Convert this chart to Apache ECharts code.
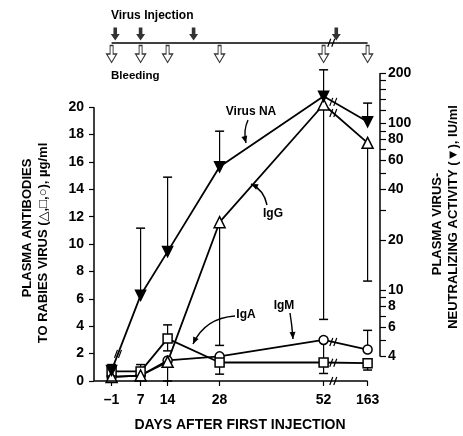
<!DOCTYPE html>
<html><head><meta charset="utf-8">
<script src="https://cdn.jsdelivr.net/npm/echarts@6/dist/echarts.min.js"></script>
<style>html,body{margin:0;padding:0;background:#fff}#c{width:463px;height:436px}</style>
</head><body><div id="c"></div>
<script>
// ---------- data ----------
const dayLabels = ['\u20131', '7', '14', '28', '52', '163'];
const bleedDays = [-1, 7, 14, 28, 52, 163];
// plotting position of each bleeding day on the broken x axis
const axisPos = [-1, 6.25, 13, 26, 52, 63];
const injectionDays = [0, 7, 21, 84];

const virusNA   = [3.3, 9.3, 17, 54.8, 145, 102];      // IU/ml (right, log)
const virusNAHi = [null, 23.5, 47.5, 89.6, 209, 132];
const igG   = [0.3, 0.4, 1.4, 11.6, 20.2, 17.4];        // µg/ml (left)
const igGLo = [null, null, 0, 2.6, 4.5, 7.3];
const igA   = [0.7, 0.7, 3.1, 1.35, 1.35, 1.3];
const igAHi = [1.2, 1.2, 4.1, null, null, null];
const igALo = [null, null, 2.2, 0.5, 0.55, 0.8];
const igM   = [0.3, 0.4, 1.5, 1.8, 3.0, 2.3];
const igMHi = [null, null, null, null, null, 3.7];
const igMLo = [null, null, null, null, 1.35, null];

const leftTicks = [0, 2, 4, 6, 8, 10, 12, 14, 16, 18, 20];
const rightLabels = [4, 6, 8, 10, 20, 40, 60, 80, 100, 200];
const rightTicks = [4, 5, 6, 7, 8, 9, 10, 20, 30, 40, 50, 60, 70, 80, 90, 100, 120, 140, 160, 180, 200];

// ---------- helpers ----------
const FONT = '"Liberation Sans", Arial, "DejaVu Sans", sans-serif';
const X_MIN = -5.4, X_MAX = 66.1;
function dayToPos(d) {
  for (let i = 0; i < bleedDays.length - 1; i++) {
    if (d >= bleedDays[i] && d <= bleedDays[i + 1]) {
      const f = (d - bleedDays[i]) / (bleedDays[i + 1] - bleedDays[i]);
      return axisPos[i] + f * (axisPos[i + 1] - axisPos[i]);
    }
  }
  return axisPos[0];
}
function pts(vals) { return axisPos.map((p, i) => [p, vals[i]]); }
function errSeries(vals, ends, yAxisIndex) {
  const data = [];
  vals.forEach((v, i) => { if (ends[i] != null) data.push([axisPos[i], v, ends[i]]); });
  return {
    type: 'custom', xAxisIndex: 0, yAxisIndex: yAxisIndex, data: data, z: 1, silent: true,
    encode: { x: 0, y: [1, 2] },
    renderItem: function (params, api) {
      const p0 = api.coord([api.value(0), api.value(1)]);
      const p1 = api.coord([api.value(0), api.value(2)]);
      return { type: 'group', children: [
        { type: 'line', shape: { x1: p0[0], y1: p0[1], x2: p1[0], y2: p1[1] }, style: { stroke: '#000', lineWidth: 1.2 } },
        { type: 'line', shape: { x1: p1[0] - 4.5, y1: p1[1], x2: p1[0] + 4.5, y2: p1[1] }, style: { stroke: '#000', lineWidth: 1.5 } }
      ] };
    }
  };
}
function lineSeries(name, vals, yAxisIndex, symbol, size, filled, rotate) {
  return {
    type: 'line', name: name, xAxisIndex: 0, yAxisIndex: yAxisIndex, data: pts(vals),
    symbol: symbol, symbolSize: size, symbolRotate: rotate || 0, showSymbol: true, z: 3,
    lineStyle: { color: '#000', width: 1.8 },
    itemStyle: { color: filled ? '#000' : '#fff', borderColor: '#000', borderWidth: 1.5 }
  };
}

const chart = echarts.init(document.getElementById('c'), null, { renderer: 'canvas' });
const tickLabelStyle = { color: '#000', fontWeight: 'bold', fontSize: 14, fontFamily: FONT };

const option = {
  animation: false,
  backgroundColor: '#fff',
  grid: [
    { left: 94, right: 83, top: 73, bottom: 55 },
    { left: 94, right: 83, top: 23, height: 40 }
  ],
  xAxis: [
    { gridIndex: 0, type: 'value', min: X_MIN, max: X_MAX,
      axisLine: { show: false, onZero: false }, splitLine: { show: false },
      axisTick: { show: true, length: 5, customValues: axisPos, lineStyle: { color: '#000', width: 1.2 } },
      axisLabel: Object.assign({ margin: 12, customValues: axisPos,
        formatter: function (v) { const i = axisPos.findIndex(p => Math.abs(p - v) < 1e-6); return i >= 0 ? dayLabels[i] : ''; } }, tickLabelStyle) },
    { gridIndex: 1, type: 'value', min: X_MIN, max: X_MAX, show: false }
  ],
  yAxis: [
    { gridIndex: 0, type: 'value', position: 'left', min: 0, max: 22.5,
      axisLine: { show: false, onZero: false }, splitLine: { show: false },
      axisTick: { show: true, length: 5, customValues: leftTicks, lineStyle: { color: '#000', width: 1.2 } },
      axisLabel: Object.assign({ margin: 10, customValues: leftTicks }, tickLabelStyle) },
    { gridIndex: 0, type: 'log', logBase: 10, position: 'right', min: 2.85, max: 200,
      axisLine: { show: false, onZero: false }, splitLine: { show: false }, minorTick: { show: false },
      axisTick: { show: true, length: 6, customValues: rightTicks, lineStyle: { color: '#000', width: 1.2 } },
      axisLabel: Object.assign({ margin: 8, customValues: rightLabels }, tickLabelStyle) },
    { gridIndex: 1, type: 'value', min: -1, max: 1, show: false }
  ],
  series: [
    errSeries(virusNA, virusNAHi, 1),
    errSeries(igG, igGLo, 0),
    errSeries(igA, igAHi, 0),
    errSeries(igA, igALo, 0),
    errSeries(igM, igMHi, 0),
    errSeries(igM, igMLo, 0),
    lineSeries('IgM', igM, 0, 'circle', 9, false),
    lineSeries('IgA', igA, 0, 'rect', 9, false),
    lineSeries('IgG', igG, 0, 'triangle', 11, false),
    lineSeries('Virus NA', virusNA, 1, 'triangle', 10, true, 180),
    // timeline of injections and bleedings
    { type: 'line', xAxisIndex: 1, yAxisIndex: 2, data: [[axisPos[0], 0], [axisPos[axisPos.length - 1], 0]],
      symbol: 'none', lineStyle: { color: '#000', width: 1.5 }, silent: true },
    { type: 'scatter', xAxisIndex: 1, yAxisIndex: 2, data: injectionDays.map(d => [dayToPos(d), 0]),
      symbol: 'path://M3,0L7,0L7,7L10,7L5,14L0,7L3,7Z', symbolSize: [9, 13], symbolOffset: [0, -9],
      symbolKeepAspect: false, itemStyle: { color: '#000' }, silent: true },
    { type: 'scatter', xAxisIndex: 1, yAxisIndex: 2, data: bleedDays.map(d => [dayToPos(d), 0]),
      symbol: 'path://M3.5,0L6.5,0L6.5,8L10,8L5,16L0,8L3.5,8Z', symbolSize: [10, 17], symbolOffset: [0, 11],
      symbolKeepAspect: false, itemStyle: { color: '#fff', borderColor: '#000', borderWidth: 1.2 }, silent: true }
  ]
};
chart.setOption(option);

// ---------- axis lines, titles, annotations ----------
const X = v => chart.convertToPixel({ xAxisIndex: 0 }, v);
const YL = v => chart.convertToPixel({ yAxisIndex: 0 }, v);
const YR = v => chart.convertToPixel({ yAxisIndex: 1 }, v);
const g = [];
function seg(x1, y1, x2, y2, w) { g.push({ type: 'line', silent: true, shape: { x1, y1, x2, y2 }, style: { stroke: '#000', lineWidth: w || 1.5 }, z: 10 }); }
function txt(text, x, y, size, opts) {
  g.push(Object.assign({ type: 'text', silent: true, x: x, y: y, z: 10,
    style: { text: text, fill: '#000', font: 'bold ' + size + 'px ' + FONT, align: 'center', verticalAlign: 'middle' } }, opts || {}));
}
function breakMark(x, y) {
  seg(x - 3.5, y + 4, x - 0.5, y - 4, 1.2);
  seg(x + 0.5, y + 4, x + 3.5, y - 4, 1.2);
}
function arrow(x1, y1, cx, cy, x2, y2) {
  g.push({ type: 'bezierCurve', silent: true, z: 10, shape: { x1, y1, cpx1: cx, cpy1: cy, x2, y2 }, style: { stroke: '#000', lineWidth: 1.4, fill: null } });
  const ang = Math.atan2(y2 - cy, x2 - cx), L = 7, W = 3;
  const bx = x2 - L * Math.cos(ang), by = y2 - L * Math.sin(ang);
  g.push({ type: 'polygon', silent: true, z: 10, shape: { points: [[x2, y2],
    [bx + W * Math.sin(ang), by - W * Math.cos(ang)], [bx - W * Math.sin(ang), by + W * Math.cos(ang)]] }, style: { fill: '#000' } });
}

const xl = X(X_MIN), xr = X(X_MAX), y0 = YL(0);
seg(xl, YL(0), xl, YL(20));                 // left axis
seg(xr, YR(4), xr, YR(200));                // right axis
seg(xl, y0, X(axisPos[axisPos.length - 1]), y0); // bottom axis

// break marks between 52 and 163
const fr = 0.22;
const bx = X(axisPos[4]) + fr * (X(axisPos[5]) - X(axisPos[4]));
breakMark(bx, y0);
breakMark(bx - 2, 42.7);
[[igM, YL], [igA, YL], [igG, YL], [virusNA, YR]].forEach(([vals, Y]) => {
  const ya = Y(vals[4]), yb = Y(vals[5]);
  breakMark(bx, ya + fr * (yb - ya));
});
{ const xa = X(axisPos[0]), xb = X(axisPos[1]), ya = YR(virusNA[0]), yb = YR(virusNA[1]);
  breakMark(xa + fr * (xb - xa), ya + fr * (yb - ya)); }

// titles
txt('PLASMA ANTIBODIES', 27, 228, 13, { rotation: Math.PI / 2 });
txt('TO RABIES VIRUS (\u25B3,\u25A1,\u25CB), \u00B5g/ml', 43, 243, 13, { rotation: Math.PI / 2 });
txt('PLASMA VIRUS-', 437, 224, 13, { rotation: Math.PI / 2 });
txt('NEUTRALIZING ACTIVITY (\u25BC), IU/ml', 453, 217, 13, { rotation: Math.PI / 2 });
txt('DAYS AFTER FIRST INJECTION', 240, 425, 14);
txt('Virus Injection', 111, 16, 12, {});
g[g.length - 1].style.align = 'left';
txt('Bleeding', 111, 76, 11.5, {});
g[g.length - 1].style.align = 'left';

// series annotations
txt('Virus NA', 251, 112, 12);
arrow(248, 120, 243, 131, 246, 143);
txt('IgG', 273, 214, 12);
arrow(267, 205, 264, 190, 251, 184);
txt('IgA', 246, 315, 12);
arrow(235, 316, 205, 318, 193, 344);
txt('IgM', 284, 306, 12);
arrow(290, 313, 292, 325, 293, 339);

chart.setOption({ graphic: g });
</script>
</body></html>
